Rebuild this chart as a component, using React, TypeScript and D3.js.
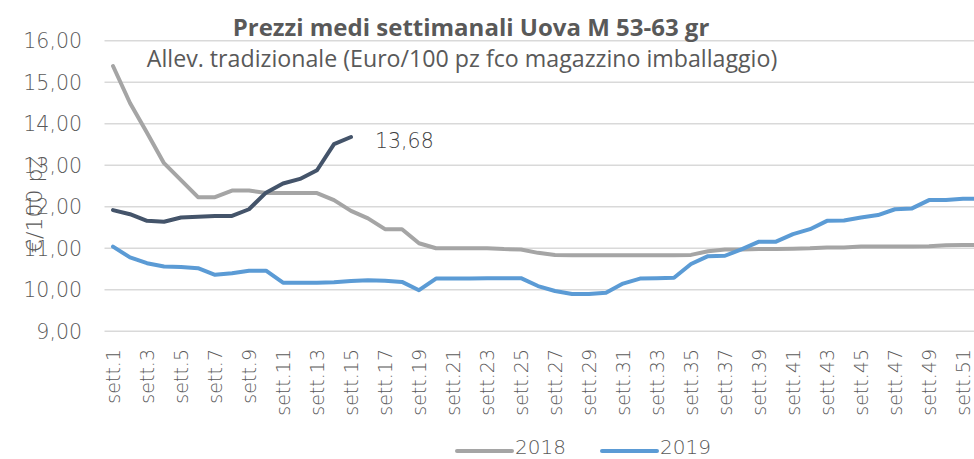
import React from "react";
import * as d3 from "d3";

const weeks: string[] = Array.from({ length: 52 }, (_, i) => `sett.${i + 1}`);

const values2018: number[] = [
  15.39, 14.5, 13.78, 13.05, 12.64, 12.23, 12.23, 12.39, 12.39, 12.33,
  12.33, 12.33, 12.33, 12.16, 11.9, 11.72, 11.46, 11.46, 11.12, 11.0,
  11.0, 11.0, 11.0, 10.98, 10.97, 10.89, 10.84, 10.83, 10.83, 10.83,
  10.83, 10.83, 10.83, 10.83, 10.84, 10.93, 10.97, 10.97, 10.98, 10.98,
  10.99, 11.0, 11.02, 11.02, 11.04, 11.04, 11.04, 11.04, 11.05, 11.07,
  11.08, 11.08,
];

const values2019: number[] = [
  11.04, 10.78, 10.64, 10.56, 10.55, 10.52, 10.36, 10.4, 10.46, 10.46,
  10.17, 10.17, 10.17, 10.18, 10.21, 10.23, 10.22, 10.19, 9.99, 10.27,
  10.27, 10.27, 10.28, 10.28, 10.28, 10.09, 9.97, 9.9, 9.9, 9.93,
  10.15, 10.27, 10.28, 10.29, 10.62, 10.81, 10.82, 10.98, 11.16, 11.16,
  11.34, 11.46, 11.66, 11.67, 11.74, 11.8, 11.94, 11.96, 12.16, 12.16,
  12.19, 12.19,
];

const values2020: number[] = [
  11.92, 11.82, 11.66, 11.64, 11.74, 11.76, 11.78, 11.78, 11.94, 12.34,
  12.56, 12.67, 12.88, 13.51, 13.68,
];

const yTicks: number[] = [9, 10, 11, 12, 13, 14, 15, 16];

const title = "Prezzi medi settimanali Uova M 53-63 gr";
const subtitle = "Allev. tradizionale (Euro/100 pz fco magazzino imballaggio)";
const yAxisTitle = "€/100 pz";
const lastLabel = "13,68";

const W = 974;
const H = 459;
const FONT = "'DejaVu Sans', sans-serif";
const TFONT = "'Open Sans', 'Lato', sans-serif";
const TEXT = "#595959";
const LW = 200;

export default function App() {
  const x = d3.scaleBand<string>().domain(weeks).range([104.5, 104.5 + 52 * 17]);
  const y = d3.scaleLinear().domain([9, 16]).range([331.3, 40.7]);
  const cx = (i: number) => (x(weeks[i]) as number) + x.bandwidth() / 2;

  const line = d3
    .line<number>()
    .x((_, i) => cx(i))
    .y((d) => y(d));

  const fmt = (v: number) => v.toFixed(2).replace(".", ",");

  const last2020 = values2020.length - 1;

  return (
    <svg
      width={W}
      height={H}
      style={{ position: "absolute", left: 0, top: 0, background: "#fff" }}
      fontFamily={FONT}
    >
      <rect width={W} height={H} fill="#fff" />
      {yTicks.map((t) => (
        <line
          key={t}
          x1={104.5}
          x2={W}
          y1={y(t)}
          y2={y(t)}
          stroke="#D9D9D9"
          strokeWidth={1.5}
        />
      ))}
      {yTicks.map((t) => (
        <text
          key={"l" + t}
          x={82}
          y={y(t)}
          dy="0.36em"
          textAnchor="end"
          fontSize={20.5}
          fontWeight={LW}
          fill={TEXT}
        >
          {fmt(t)}
        </text>
      ))}
      <text
        transform={`translate(42,205) rotate(-90)`}
        textAnchor="middle"
        fontSize={22}
        fontWeight={LW}
        fill={TEXT}
      >
        {yAxisTitle}
      </text>
      {weeks.map((w, i) =>
        i % 2 === 0 ? (
          <text
            key={w}
            transform={`translate(${cx(i) + 7},349) rotate(-90)`}
            textAnchor="end"
            fontSize={19}
            fontWeight={LW}
            fill={TEXT}
          >
            {w}
          </text>
        ) : null
      )}
      <path d={line(values2018) || ""} fill="none" stroke="#A5A5A5" strokeWidth={4} strokeLinejoin="round" strokeLinecap="round" />
      <path d={line(values2019) || ""} fill="none" stroke="#5B9BD5" strokeWidth={4} strokeLinejoin="round" strokeLinecap="round" />
      <path d={line(values2020) || ""} fill="none" stroke="#44546A" strokeWidth={4} strokeLinejoin="round" strokeLinecap="round" />
      <text
        x={cx(last2020) + 24}
        y={y(values2020[last2020]) + 4}
        dy="0.36em"
        fontSize={20.5}
        fontWeight={LW}
        fill="#404040"
      >
        {lastLabel}
      </text>
      <text x={471} y={36} textAnchor="middle" fontFamily={TFONT} fontSize={24} fontWeight={700} fill={TEXT}>
        {title}
      </text>
      <text x={462} y={67} textAnchor="middle" fontFamily={TFONT} fontSize={23.2} fontWeight={400} fill={TEXT}>
        {subtitle}
      </text>
      <line x1={457} x2={512} y1={451} y2={451} stroke="#A5A5A5" strokeWidth={4} strokeLinecap="round" />
      <text x={515} y={454} fontSize={20} fontWeight={LW} fill={TEXT}>
        2018
      </text>
      <line x1={602} x2={657} y1={451} y2={451} stroke="#5B9BD5" strokeWidth={4} strokeLinecap="round" />
      <text x={660} y={454} fontSize={20} fontWeight={LW} fill={TEXT}>
        2019
      </text>
    </svg>
  );
}
